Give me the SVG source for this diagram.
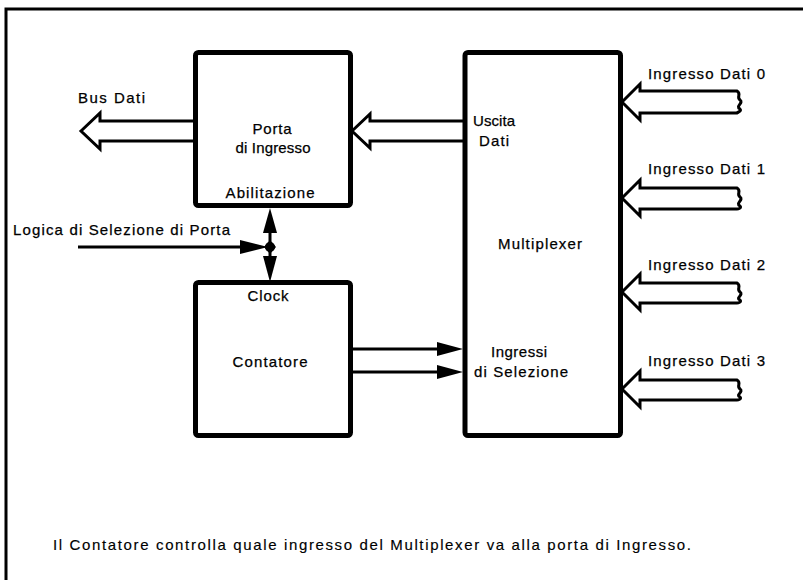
<svg xmlns="http://www.w3.org/2000/svg" width="803" height="580" viewBox="0 0 803 580">
<defs>
<style>
.box{fill:#fff;stroke:#000;stroke-width:5}
.hollow{fill:#fff;stroke:#000;stroke-width:3;stroke-linejoin:miter}
.line{fill:none;stroke:#000;stroke-width:3}
.head{fill:#000;stroke:none}
text{font-family:"Liberation Sans",Arial,sans-serif;font-size:15px;fill:#000;stroke:#000;stroke-width:0.25}
.c{text-anchor:middle}
</style>
</defs>
<rect width="803" height="580" fill="#fff"/>
<g id="frame">
<path d="M6,580 V9 H803" class="line" style="stroke-width:3"/>
</g>
<g id="connectors">
<path class="hollow" d="M81,131 L100,113 L100,121 L196,121 L196,141 L100,141 L100,149 Z"/>
<path class="hollow" d="M352,131 L370,114 L370,121 L465,121 L465,141 L370,141 L370,148 Z"/>
<path class="hollow" d="M622,102 L640,84 L640,91 L737,91 C742,94 736,97 740,100 C744,103 735,106 740,109 C742,111 738,112 737,113 L640,113 L640,120 Z"/>
<path class="hollow" d="M622,198 L640,180 L640,188 L737,188 C742,191 736,194 740,197 C744,200 735,203 740,206 C742,208 738,209 737,209 L640,209 L640,216 Z"/>
<path class="hollow" d="M622,292 L640,274 L640,283 L737,283 C742,286 736,289 740,292 C744,295 735,298 740,300 C742,302 738,303 737,303 L640,303 L640,310 Z"/>
<path class="hollow" d="M622,389 L640,371 L640,380 L737,380 C742,383 736,386 740,389 C744,392 735,395 740,397 C742,399 738,400 737,400 L640,400 L640,407 Z"/>
<line class="line" x1="78" y1="247" x2="250" y2="247"/>
<path class="head" d="M240,240 L268,247 L240,254 Z"/>
<line class="line" x1="270" y1="220" x2="270" y2="270"/>
<path class="head" d="M270,208 L277,233 L263,233 Z"/>
<path class="head" d="M270,282 L277,256 L263,256 Z"/>
<path class="head" d="M270,240 L276,247 L270,254 L264,247 Z"/>
<circle cx="270" cy="247" r="5" fill="#000"/>
<line class="line" x1="352" y1="349" x2="445" y2="349"/>
<path class="head" d="M437,342 L463,349 L437,356 Z"/>
<line class="line" x1="352" y1="372" x2="445" y2="372"/>
<path class="head" d="M437,365 L463,372 L437,379 Z"/>
</g>
<g id="porta">
<rect class="box" x="195.5" y="52.5" width="155" height="153" rx="3"/>
<text class="c" x="272" y="134" textLength="39">Porta</text>
<text class="c" x="273" y="153" textLength="75">di Ingresso</text>
<text class="c" x="270" y="198" textLength="89">Abilitazione</text>
</g>
<g id="contatore">
<rect class="box" x="195.5" y="282.5" width="155" height="153" rx="3"/>
<text class="c" x="268" y="301" textLength="41">Clock</text>
<text class="c" x="270" y="367" textLength="75">Contatore</text>
</g>
<g id="multiplexer">
<rect class="box" x="465" y="52.5" width="155.5" height="383" rx="3"/>
<text class="c" x="494" y="126" textLength="42">Uscita</text>
<text class="c" x="494" y="146" textLength="30">Dati</text>
<text class="c" x="540" y="249" textLength="84">Multiplexer</text>
<text class="c" x="519" y="357" textLength="56">Ingressi</text>
<text class="c" x="521" y="377" textLength="94">di Selezione</text>
</g>
<g id="labels">
<text x="78" y="103" textLength="67">Bus Dati</text>
<text x="13" y="235" textLength="217">Logica di Selezione di Porta</text>
<text x="648" y="79" textLength="117">Ingresso Dati 0</text>
<text x="648" y="174" textLength="117">Ingresso Dati 1</text>
<text x="648" y="270" textLength="117">Ingresso Dati 2</text>
<text x="648" y="366" textLength="117">Ingresso Dati 3</text>
<text x="53" y="550" textLength="638" style="font-size:15px;stroke-width:0.15">Il Contatore controlla quale ingresso del Multiplexer va alla porta di Ingresso.</text>
</g>
</svg>
